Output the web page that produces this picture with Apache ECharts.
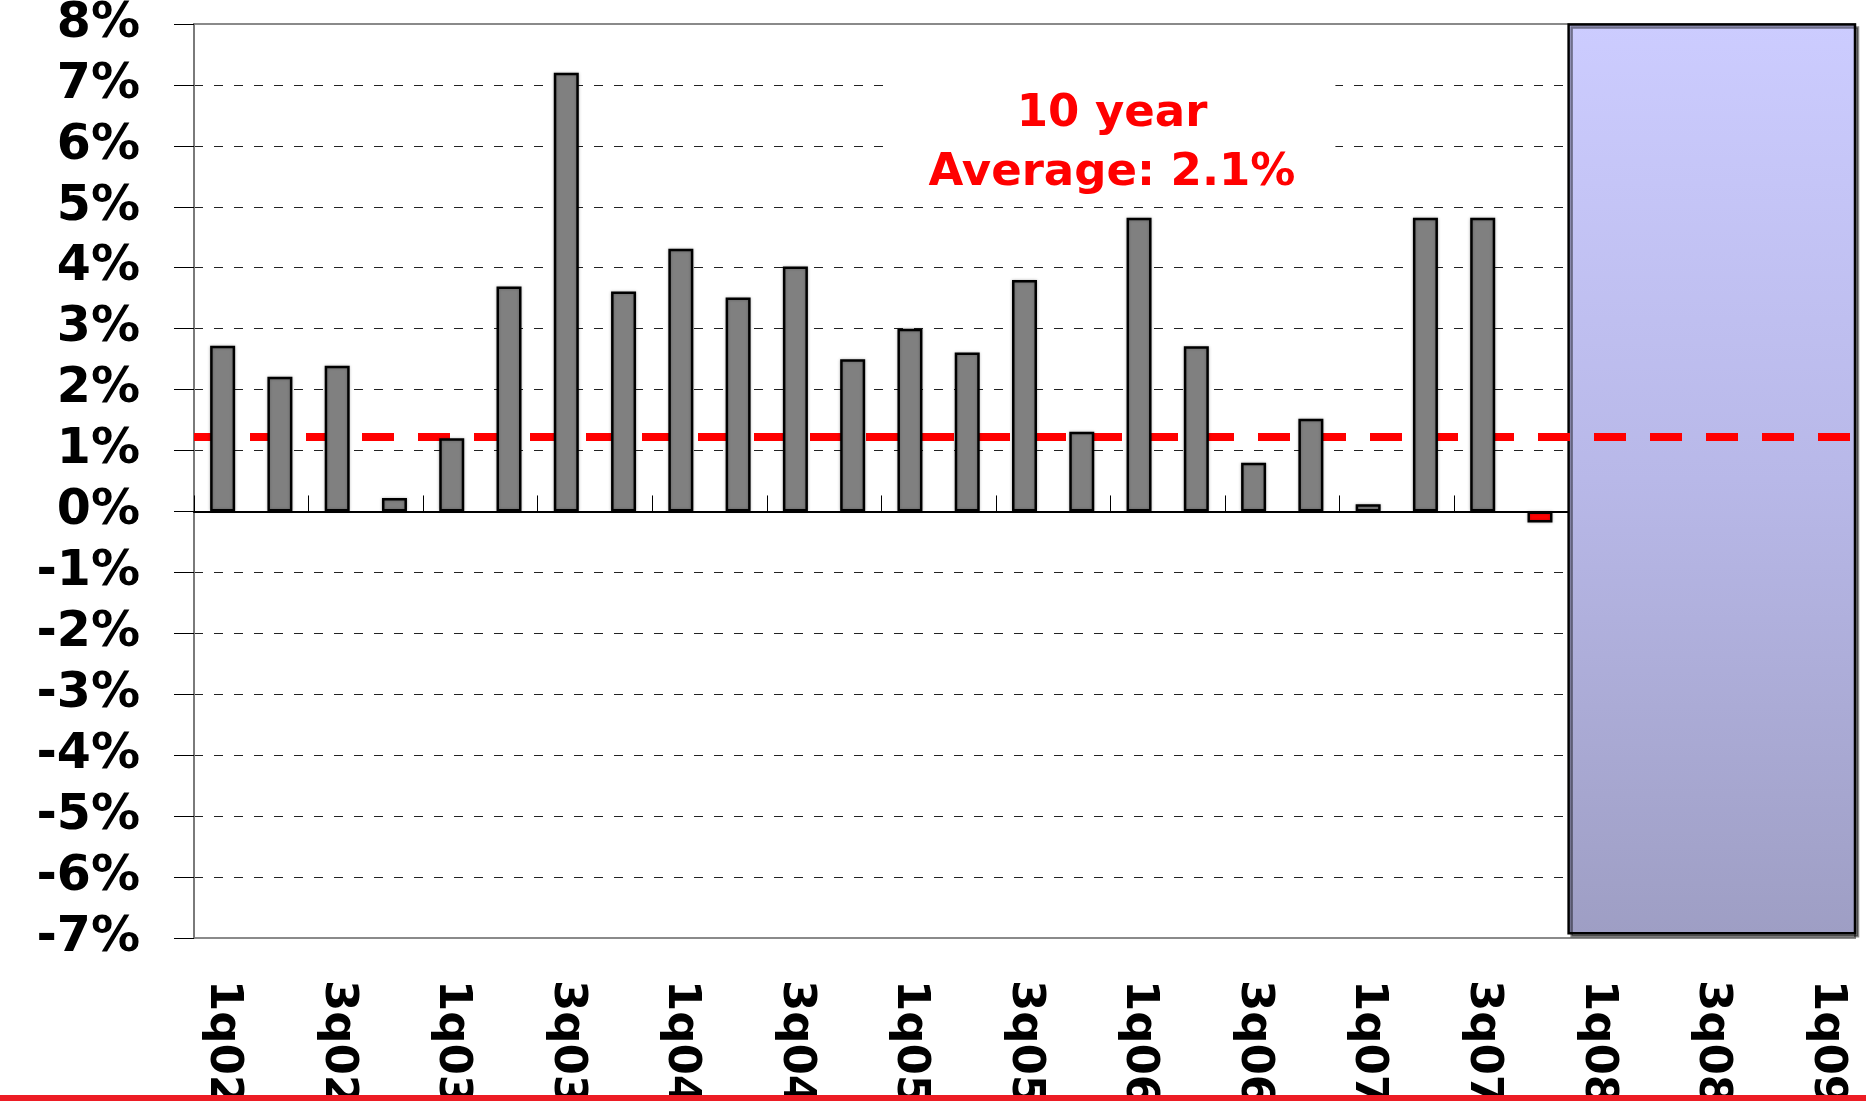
<!DOCTYPE html>
<html>
<head>
<meta charset="utf-8">
<style>
  html, body { margin: 0; padding: 0; background: #fff; }
  #chart { width: 1866px; height: 1101px; }
</style>
<script src="https://cdn.jsdelivr.net/npm/echarts@6/dist/echarts.min.js"></script>
</head>
<body>
<div id="chart"></div>
<script>
// Quarter categories (only every second one is labelled)
const categories = [
  '1q02','2q02','3q02','4q02',
  '1q03','2q03','3q03','4q03',
  '1q04','2q04','3q04','4q04',
  '1q05','2q05','3q05','4q05',
  '1q06','2q06','3q06','4q06',
  '1q07','2q07','3q07','4q07',
  '1q08','2q08','3q08','4q08',
  '1q09'
];
// Quarterly values, percent
const growth = [
  2.72, 2.21, 2.39, 0.22,
  1.20, 3.69, 7.20, 3.61,
  4.31, 3.51, 4.02, 2.50,
  3.00, 2.61, 3.80, 1.31,
  4.82, 2.71, 0.80, 1.52,
  0.12, 4.82, 4.82, -0.18,
  null, null, null, null,
  null
];
// Dashed average line level (as drawn)
const averageLine = [1.22];
// Shaded forecast region: category index span and value span
const forecastSpanX = [24, 29];
const forecastSpanY = [7.99, -6.92];
// Value axis range
const yMin = -7, yMax = 8, yStep = 1;
const annotationText = '10 year\nAverage: 2.1%';

const FONT = '"DejaVu Sans", Verdana, sans-serif';
const chart = echarts.init(document.getElementById('chart'), null, { renderer: 'canvas' });

const option = {
  animation: false,
  backgroundColor: '#ffffff',
  grid: {
    left: 194, right: 11, top: 24, bottom: 163,
    containLabel: false,
    outerBoundsMode: 'none',
    show: true, borderColor: '#8a8a8a', borderWidth: 2, backgroundColor: '#ffffff'
  },
  xAxis: [
    {
      type: 'category',
      data: categories,
      position: 'bottom',
      boundaryGap: true,
      axisLine: { show: false, onZero: false },
      axisTick: { show: false },
      splitLine: { show: false },
      axisLabel: {
        interval: 1,
        rotate: -90,
        margin: 42,
        color: '#000',
        fontFamily: FONT,
        fontWeight: 'bold',
        fontSize: 45
      }
    },
    {
      type: 'category',
      data: categories,
      position: 'top',
      boundaryGap: true,
      axisLine: { show: true, onZero: true, lineStyle: { color: '#000', width: 2 } },
      axisTick: { show: true, inside: false, interval: 1, length: 16, lineStyle: { color: '#000', width: 1 } },
      axisLabel: { show: false },
      splitLine: { show: false }
    },
    {
      type: 'value',
      min: 0, max: categories.length,
      show: false
    }
  ],
  yAxis: {
    type: 'value',
    min: yMin, max: yMax, interval: yStep,
    axisLine: { show: true, onZero: false, lineStyle: { color: '#7a7a7a', width: 2 } },
    axisTick: { show: true, length: 20, lineStyle: { color: '#000', width: 1 } },
    splitLine: {
      show: true, showMinLine: false, showMaxLine: false,
      lineStyle: { color: '#222', width: 1, type: [9, 11] }
    },
    axisLabel: {
      formatter: '{value}%',
      margin: 54,
      color: '#000',
      fontFamily: FONT,
      fontWeight: 'bold',
      fontSize: 49
    }
  },
  series: [
    {
      type: 'line',
      xAxisIndex: 2,
      yAxisIndex: 0,
      data: [],
      z: 3,
      silent: true,
      markArea: {
        silent: true,
        itemStyle: {
          color: {
            type: 'linear', x: 0, y: 0, x2: 0, y2: 1,
            colorStops: [
              { offset: 0, color: '#ccccff' },
              { offset: 0.5, color: '#b8b8e8' },
              { offset: 1, color: '#9e9ec4' }
            ]
          },
          borderColor: '#000',
          borderWidth: 2.5,
          shadowColor: 'rgba(0,0,0,0.45)',
          shadowBlur: 0,
          shadowOffsetX: 3,
          shadowOffsetY: 3
        },
        data: [[
          { coord: [forecastSpanX[0], forecastSpanY[0]] },
          { coord: [forecastSpanX[1], forecastSpanY[1]] }
        ]]
      }
    },
    {
      type: 'bar',
      xAxisIndex: 0,
      yAxisIndex: 0,
      data: growth,
      barWidth: 25,
      z: 5,
      itemStyle: {
        color: function (p) { return p.value < 0 ? '#ff0000' : '#808080'; },
        borderColor: '#000',
        borderWidth: 2.5,
        shadowColor: 'rgba(0,0,0,0.25)',
        shadowBlur: 3
      },
      markLine: {
        silent: true,
        symbol: ['none', 'none'],
        label: { show: false },
        lineStyle: { color: '#ff0000', width: 8, type: [32, 24] },
        data: [{ yAxis: averageLine[0] }]
      }
    }
  ],
  graphic: [
    {
      type: 'text',
      z: 100,
      x: 1112,
      y: 83,
      style: {
        text: annotationText,
        align: 'center',
        verticalAlign: 'top',
        lineHeight: 59,
        font: 'bold 45px ' + FONT,
        fill: '#ff0000',
        backgroundColor: '#ffffff',
        padding: [2, 40, 2, 40]
      }
    },
    {
      type: 'rect',
      z: 100,
      left: 0,
      bottom: 0,
      shape: { width: 1866, height: 6 },
      style: { fill: '#ed1c24' }
    }
  ]
};
chart.setOption(option);
</script>
</body>
</html>
